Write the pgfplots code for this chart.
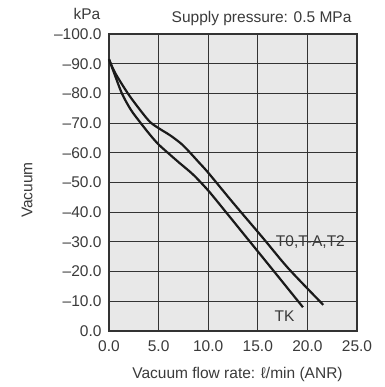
\documentclass[border=0pt]{standalone}
\usepackage{fontspec}
\setmainfont{Liberation Sans}
\usepackage{pgfplots}
\pgfplotsset{compat=1.18}
\definecolor{bg}{HTML}{E8E8E8}
\definecolor{gridc}{HTML}{333333}
\definecolor{txt}{HTML}{3A3A3A}
\definecolor{curve}{HTML}{1A1A1A}

\begin{document}
\begin{tikzpicture}[font=\fontsize{15.5}{18}\selectfont]
\path[use as bounding box] (-109pt,-56pt) rectangle (275pt,331pt);
\begin{axis}[
    at={(0,0)}, anchor=south west,
    width=248pt, height=297pt, scale only axis,
    xmin=0, xmax=25, ymin=-100, ymax=0,
    y dir=reverse, % -100 at the top
    axis background/.style={fill=bg},
    xtick={0,5,...,25},
    xticklabels={0.0,5.0,10.0,15.0,20.0,25.0},
    ytick={-100,-90,...,0},
    yticklabels={–100.0,–90.0,–80.0,–70.0,–60.0,–50.0,–40.0,–30.0,–20.0,–10.0,0.0},
    grid=major,
    major grid style={gridc, line width=1pt},
    axis line style={gridc, line width=1.1pt},
    major tick length=0pt,
    tick label style={text=txt},
    yticklabel style={xshift=-4pt},
    xticklabel style={yshift=-6pt},
    clip=false,
]
    % TK
    \addplot[curve, line width=2.2pt, smooth] coordinates {
        (0,-91.5) (0.5,-87) (1.3,-80) (2.2,-74.5) (3.2,-70) (4.2,-65.8)
        (5,-62.8) (6,-59.8) (7.1,-56.6) (8.5,-52.6) (10,-47.3) (11.6,-40.8)
        (14.1,-30.5) (16.7,-19.8) (19.55,-8)
    };
    % T0, T-A, T2
    \addplot[curve, line width=2.2pt, smooth] coordinates {
        (0,-91.5) (0.6,-87) (1.9,-80) (3,-75) (4.1,-70.5) (5,-68.3)
        (6.2,-65.8) (7.3,-63) (8.1,-60.3) (9,-57) (10,-53.3) (12.5,-43.2)
        (15.6,-31) (18.1,-21) (21.6,-8.8)
    };
    \node[text=txt] at (axis cs:20.3,-30) {T0,T-A,T2};
    \node[text=txt] at (axis cs:17.7,-5) {TK};
\end{axis}
\node[text=txt] at (-22pt,317pt) {kPa};
\node[text=txt, anchor=east] at (246pt,312pt) {Supply pressure: 0.5 MPa};
\node[text=txt] at (128.5pt,-43pt) {Vacuum flow rate: ℓ/min (ANR)};
\node[text=txt, rotate=90] at (-82pt,141pt) {Vacuum};
\end{tikzpicture}
\end{document}
